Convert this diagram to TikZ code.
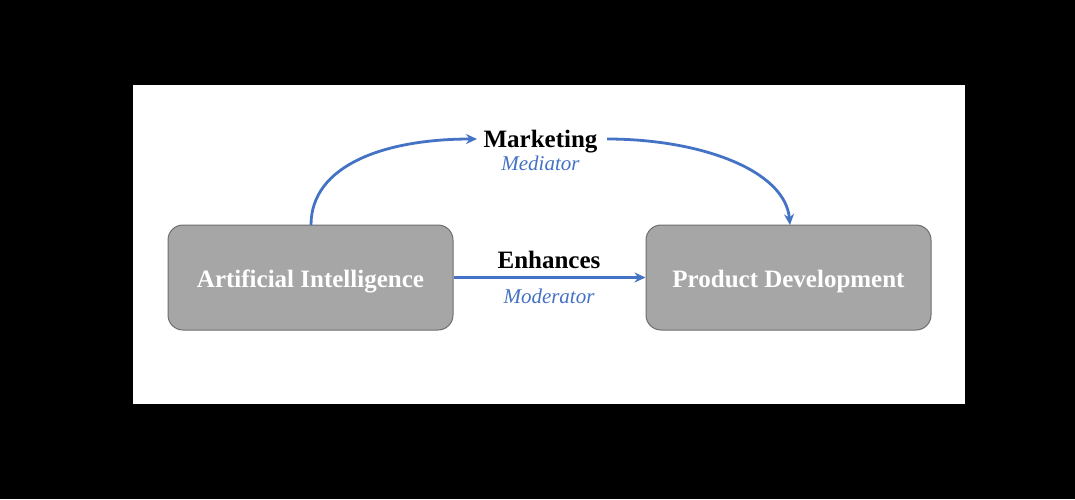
\documentclass[tikz,border=0pt]{standalone}
\usepackage{fontspec}
\setmainfont{Liberation Serif}
\usetikzlibrary{arrows.meta}
\definecolor{boxfill}{HTML}{A6A6A6}
\definecolor{boxline}{HTML}{6E6E6E}
\definecolor{arrowblue}{HTML}{4472C4}
\begin{document}
\begin{tikzpicture}[x=1pt,y=-1pt,
  box/.style={draw=boxline, line width=1pt, fill=boxfill, rounded corners=15pt,
    minimum width=285pt, minimum height=105pt, inner sep=0pt,
    text=white, font=\fontsize{25}{28}\selectfont\bfseries},
  conn/.style={draw=arrowblue, line width=2.8pt, -{Stealth[length=11pt,width=10pt]}},
  mainlabel/.style={font=\fontsize{25}{28}\selectfont\bfseries, text=black, inner sep=0pt},
  rolelabel/.style={font=\fontsize{21}{24}\selectfont\itshape, text=arrowblue, inner sep=0pt}]
\fill[black] (0,0) rectangle (1075,499);
\useasboundingbox (0,0) rectangle (1075,499);
\fill[white] (133,85) rectangle (965,404);
\node[box] (ai) at (310.5,277.5) {\raisebox{-4pt}[\height][\depth]{Artificial Intelligence}};
\node[box] (pd) at (788.5,277.5) {\raisebox{-4pt}[\height][\depth]{Product Development}};
\node[mainlabel] (mkt) at (540.5,142) {Marketing};
\node[rolelabel] (med) at (540.5,163) {Mediator};
\node[mainlabel] (enh) at (549,260) {Enhances};
\node[rolelabel] (mod) at (549,296) {Moderator};
\coordinate (aitop) at (311,225);
\coordinate (pdtop) at (790,225);
\coordinate (mktin) at (477,139);
\coordinate (mktout) at (607,139);
\draw[conn] (aitop) .. controls (311,165) and (385,139) .. (mktin);
\draw[conn] (mktout) .. controls (700,139) and (785,170) .. (pdtop);
\draw[conn] (ai.east) -- (pd.west);
\end{tikzpicture}
\end{document}
